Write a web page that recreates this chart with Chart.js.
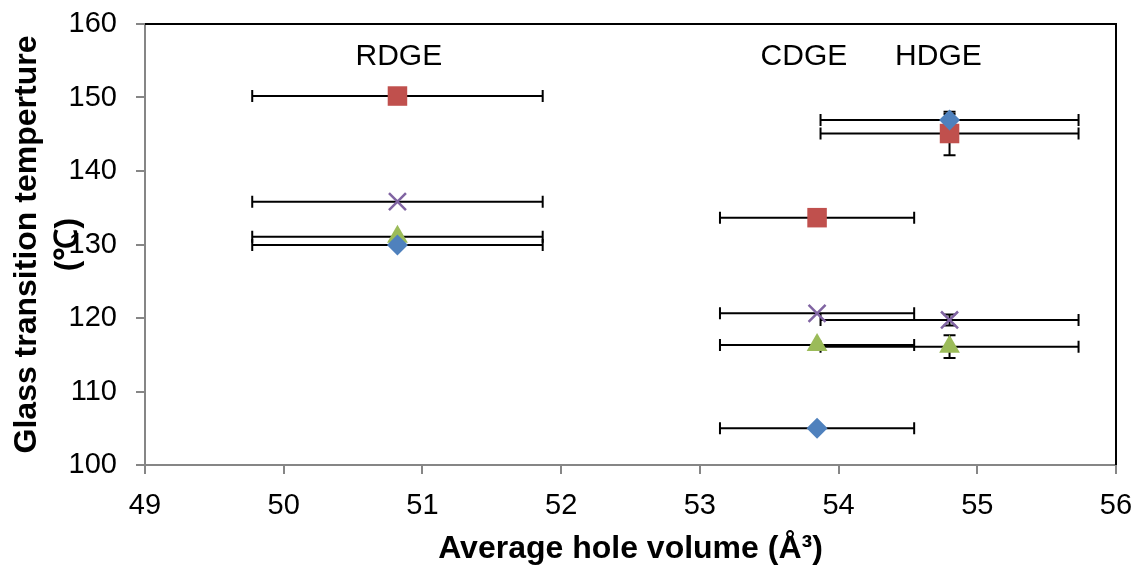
<!DOCTYPE html>
<html><head><meta charset="utf-8">
<script src="https://cdn.jsdelivr.net/npm/chart.js@4"></script>
<style>html,body{margin:0;padding:0;background:#fff;} #wrap{width:1137px;height:565px;position:relative;}</style>
</head><body><div id="wrap"><canvas id="c"></canvas></div>
<script>
// ---- data ----
const categories = ['RDGE', 'CDGE', 'HDGE'];
const holeVolume = [50.82, 53.845, 54.80];
const holeVolumeErr = [1.047, 0.70, 0.93];
const tgBlue = [129.93, 105.0, 146.94];
const tgRed = [150.2, 133.65, 145.1];
const tgGreen = [131.06, 116.33, 116.1];
const tgPurple = [135.83, 120.64, 119.73];
const tgErrBlue = [0, 0, 0.8];
const tgErrRed = [0, 0, 2.95];
const tgErrGreen = [0, 0, 1.54];
const tgErrPurple = [0, 0, 0.75];
const labelX = [50.83, 53.75, 54.72];
const labelY = [155.5, 155.5, 155.5];
const xTickValues = [49, 50, 51, 52, 53, 54, 55, 56];
const yTickValues = [100, 110, 120, 130, 140, 150, 160];
const xTitle = 'Average hole volume (Å³)';
const yTitle = ['Glass transition temperture', '(℃)'];

const FONT = "'Liberation Sans', Arial, sans-serif";
const AXIS = '#868686';

function pts(ys, yErrs) {
  return ys.map((v, i) => ({ x: holeVolume[i], y: v, xErr: holeVolumeErr[i], yErr: yErrs[i] }));
}

const errorBars = {
  id: 'errorBars',
  beforeDatasetsDraw(chart) {
    const { ctx, chartArea: a, scales: { x, y } } = chart;
    ctx.save();
    // plot border top and right
    ctx.strokeStyle = '#000';
    ctx.lineWidth = 2;
    ctx.beginPath();
    ctx.moveTo(a.left, a.top); ctx.lineTo(a.right, a.top); ctx.lineTo(a.right, a.bottom);
    ctx.stroke();
    const cap = 6;
    ctx.strokeStyle = '#000';
    ctx.lineWidth = 2;
    chart.data.datasets.forEach(ds => {
      ds.data.forEach(p => {
        const px = x.getPixelForValue(p.x), py = y.getPixelForValue(p.y);
        ctx.beginPath();
        if (p.xErr) {
          const x0 = x.getPixelForValue(p.x - p.xErr), x1 = x.getPixelForValue(p.x + p.xErr);
          ctx.moveTo(x0, py); ctx.lineTo(x1, py);
          ctx.moveTo(x0, py - cap); ctx.lineTo(x0, py + cap);
          ctx.moveTo(x1, py - cap); ctx.lineTo(x1, py + cap);
        }
        if (p.yErr) {
          const y0 = y.getPixelForValue(p.y - p.yErr), y1 = y.getPixelForValue(p.y + p.yErr);
          ctx.moveTo(px, y0); ctx.lineTo(px, y1);
          ctx.moveTo(px - cap, y0); ctx.lineTo(px + cap, y0);
          ctx.moveTo(px - cap, y1); ctx.lineTo(px + cap, y1);
        }
        ctx.stroke();
      });
    });
    ctx.restore();
  },
  afterDatasetsDraw(chart) {
    const { ctx, scales: { x, y } } = chart;
    ctx.save();
    ctx.fillStyle = '#000';
    ctx.font = '30px ' + FONT;
    ctx.textAlign = 'center';
    ctx.textBaseline = 'middle';
    categories.forEach((t, i) => {
      ctx.fillText(t, x.getPixelForValue(labelX[i]), y.getPixelForValue(labelY[i]));
    });
    ctx.restore();
  }
};

const mk = (label, ys, errs, color, style, r) => ({
  label, data: pts(ys, errs), pointStyle: style, pointRadius: r, pointHoverRadius: r,
  backgroundColor: color, borderColor: color, borderWidth: style === 'crossRot' ? 2.5 : 0,
  showLine: false
});

const zeroPad = s => { s.paddingTop = 0; s.paddingBottom = 0; s.paddingLeft = 0; s.paddingRight = 0; };

new Chart(document.getElementById('c'), {
  type: 'scatter',
  data: {
    datasets: [
      mk('Series 1', tgBlue, tgErrBlue, '#4F81BD', 'rectRot', 10.5),
      mk('Series 2', tgRed, tgErrRed, '#C0504D', 'rect', 13.8),
      mk('Series 3', tgGreen, tgErrGreen, '#9BBB59', 'triangle', 12),
      mk('Series 4', tgPurple, tgErrPurple, '#8064A2', 'crossRot', 12)
    ]
  },
  options: {
    responsive: true,
    maintainAspectRatio: false,
    animation: false,
    devicePixelRatio: 1,
    layout: { padding: { top: 24, right: 21, left: 0, bottom: 0 } },
    plugins: { legend: { display: false }, tooltip: { enabled: false } },
    scales: {
      x: {
        type: 'linear', min: 49, max: 56,
        afterBuildTicks: s => { s.ticks = xTickValues.map(v => ({ value: v })); },
        afterFit: s => { s.height = 100; zeroPad(s); },
        border: { color: AXIS, width: 2 },
        grid: { drawOnChartArea: false, drawTicks: true, tickLength: 9, color: AXIS, lineWidth: 2 },
        ticks: { color: '#000', font: { family: FONT, size: 29 }, padding: 15, maxRotation: 0 },
        title: { display: true, text: xTitle, color: '#000', font: { family: FONT, size: 32, weight: 'bold', lineHeight: 1.0 }, padding: { top: 0, bottom: 0 } }
      },
      y: {
        type: 'linear', min: 100, max: 160,
        afterBuildTicks: s => { s.ticks = yTickValues.map(v => ({ value: v })); },
        afterFit: s => { s.width = 145; zeroPad(s); },
        border: { color: AXIS, width: 2 },
        grid: { drawOnChartArea: false, drawTicks: true, tickLength: 9, color: AXIS, lineWidth: 2 },
        ticks: { color: '#000', font: { family: FONT, size: 29 }, padding: 19 },
        title: { display: true, text: yTitle, color: '#000', font: { family: FONT, size: 32, weight: 'bold', lineHeight: 1.3 }, padding: { top: 6, bottom: 0 } }
      }
    }
  },
  plugins: [errorBars]
});
</script></body></html>
